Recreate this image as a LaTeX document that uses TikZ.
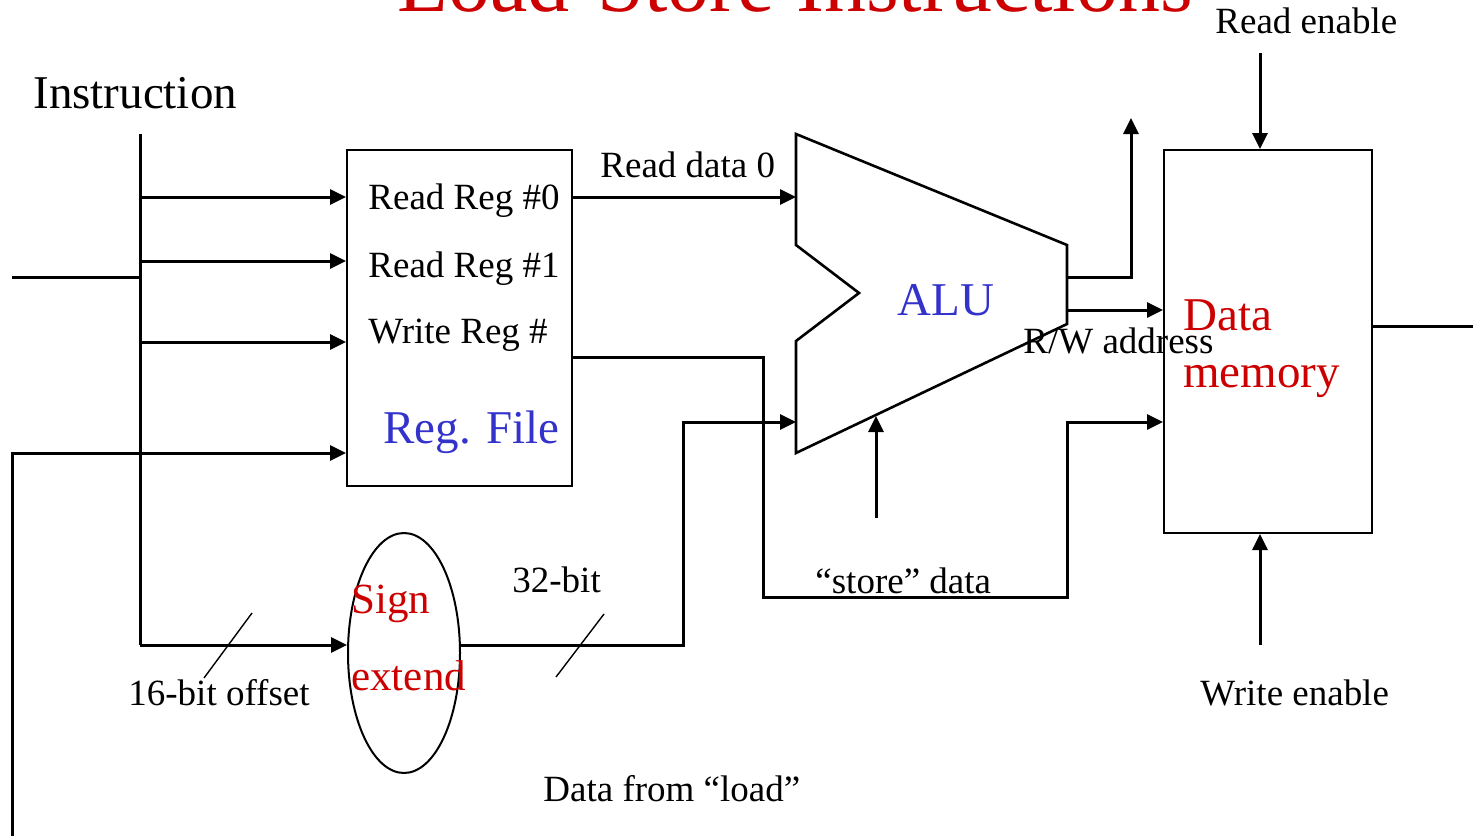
\documentclass[tikz,border=0pt]{standalone}
\usepackage{fontspec}
\setmainfont{Liberation Serif}
\usetikzlibrary{arrows.meta,shapes.geometric}
\definecolor{titlered}{RGB}{204,0,0}
\definecolor{unitblue}{RGB}{51,51,204}
\begin{document}
\begin{tikzpicture}[x=0.5pt,y=-0.5pt,
  wire/.style={line width=1.5pt},
  arr/.style={wire,-{Triangle[length=8pt,width=7.5pt]}},
  thin tick/.style={line width=0.7pt},
  lbl/.style={anchor=base west,inner sep=0pt,font=\fontsize{18.5}{22}\selectfont},
  big/.style={anchor=base west,inner sep=0pt,font=\fontsize{23.5}{28}\selectfont},
  unit/.style={draw,line width=1pt,inner sep=0pt}]
\useasboundingbox (0,0) rectangle (1473,836);

% title, partly above the page edge
\node[anchor=base,inner sep=0pt,text=titlered,font=\fontsize{42}{50}\selectfont]
  (title) at (795,11) {Load-Store Instructions};

% functional units
\node[unit,minimum width=112.5pt,minimum height=168pt] (regfile) at (459.5,318) {};
\node[unit,minimum width=104pt,minimum height=191.5pt] (mem) at (1268,341.5) {};
\node[unit,ellipse,minimum width=56pt,minimum height=120pt] (signext) at (404,653) {};

% ALU outline
\coordinate (aluTL) at (796,134);
\coordinate (aluN1) at (796,245);
\coordinate (aluNP) at (859,293);
\coordinate (aluN2) at (796,341);
\coordinate (aluBL) at (796,453);
\coordinate (aluBR) at (1067,324);
\coordinate (aluTR) at (1067,245);
\draw[line width=1.3pt,line join=miter] (aluTL) -- (aluN1) -- (aluNP) -- (aluN2) -- (aluBL)
  -- (aluBR) -- (aluTR) -- cycle;

% instruction bus and register-file inputs
\coordinate (busTop) at (140,134);
\coordinate (busBot) at (140,645);
\coordinate (instIn) at (12,277);
\draw[wire] (busTop) -- (busBot);
\draw[wire] (instIn) -- (busTop |- instIn);
\coordinate (tap0) at (140,197);
\coordinate (tap1) at (140,261);
\coordinate (tap2) at (140,342);
\draw[arr] (tap0) -- (regfile.west |- tap0);
\draw[arr] (tap1) -- (regfile.west |- tap1);
\draw[arr] (tap2) -- (regfile.west |- tap2);
\coordinate (loadBot) at (12,836);
\coordinate (loadIn) at (12,453);
\draw[arr,line join=miter] (loadBot) -- (loadIn) -- (regfile.west |- loadIn);

% offset to sign extension, then to the ALU
\draw[arr] (busBot) -- (signext.west |- busBot);
\coordinate (extJog) at (683,645);
\coordinate (aluIn1) at (796,422);
\draw[arr,line join=miter] (signext.east |- busBot) -- (extJog) -- (extJog |- aluIn1) -- (aluIn1);
\coordinate (aluIn0) at (796,197);
\draw[arr] (regfile.east |- aluIn0) -- (aluIn0);

% store data path to memory
\coordinate (stOut) at (572,357);
\coordinate (stA) at (763,357);
\coordinate (stB) at (763,597);
\coordinate (stC) at (1067,597);
\coordinate (memIn1) at (1067,422);
\draw[arr,line join=miter] (regfile.east |- stOut) -- (stA) -- (stB) -- (stC) -- (memIn1)
  -- (mem.west |- memIn1);

% ALU outputs
\coordinate (aluOutA) at (1067,277);
\coordinate (aluOutUp) at (1131,277);
\coordinate (aluOutTop) at (1131,118);
\draw[arr,line join=miter] (aluOutA) -- (aluOutUp) -- (aluOutTop);
\coordinate (aluOutB) at (1067,310);
\draw[arr] (aluOutB) -- (mem.west |- aluOutB);

% ALU control input
\coordinate (aluCtl) at (876,518);
\coordinate (aluCtlTip) at (876,416);
\draw[arr] (aluCtl) -- (aluCtlTip);

% memory enables and output
\coordinate (rdEn) at (1260,53);
\draw[arr] (rdEn) -- (mem.north -| rdEn);
\coordinate (wrEn) at (1260,645);
\draw[arr] (wrEn) -- (mem.south -| wrEn);
\coordinate (memOut) at (1473,326);
\draw[wire] (mem.east |- memOut) -- (memOut);

% bus-width ticks
\coordinate (tk16a) at (252,613);
\coordinate (tk16b) at (204,678);
\draw[thin tick] (tk16a) -- (tk16b);
\coordinate (tk32a) at (604,614);
\coordinate (tk32b) at (556,677);
\draw[thin tick] (tk32a) -- (tk32b);

% labels
\node[big] (lInstr) at (33,108) {Instruction};
\node[lbl] (lRd0) at (600,177) {Read data 0};
\node[lbl] (lRR0) at (368,209) {Read Reg \#0};
\node[lbl] (lRR1) at (368,277) {Read Reg \#1};
\node[lbl] (lWR) at (368,343) {Write Reg \#};
\node[big,text=unitblue] (lRF) at (383,443) {Reg. File};
\node[big,text=unitblue] (lALU) at (897,315) {ALU};
\node[big,text=titlered] (lData) at (1183,330) {Data};
\node[big,text=titlered] (lMem) at (1183,387) {memory};
\node[lbl] (lRW) at (1023,353) {R/W address};
\node[lbl] (lRdEn) at (1215,33) {Read enable};
\node[lbl] (lWrEn) at (1200,705) {Write enable};
\node[lbl] (l32) at (512,592) {32-bit};
\node[lbl] (lStore) at (815,593) {“store” data};
\node[lbl] (l16) at (128,705) {16-bit offset};
\node[anchor=base west,inner sep=0pt,text=titlered,font=\fontsize{21.5}{26}\selectfont] (lSign) at (351,613) {Sign};
\node[anchor=base west,inner sep=0pt,text=titlered,font=\fontsize{21.5}{26}\selectfont] (lExt) at (351,690) {extend};
\node[lbl] (lLoad) at (543,801) {Data from “load”};
\end{tikzpicture}
\end{document}
